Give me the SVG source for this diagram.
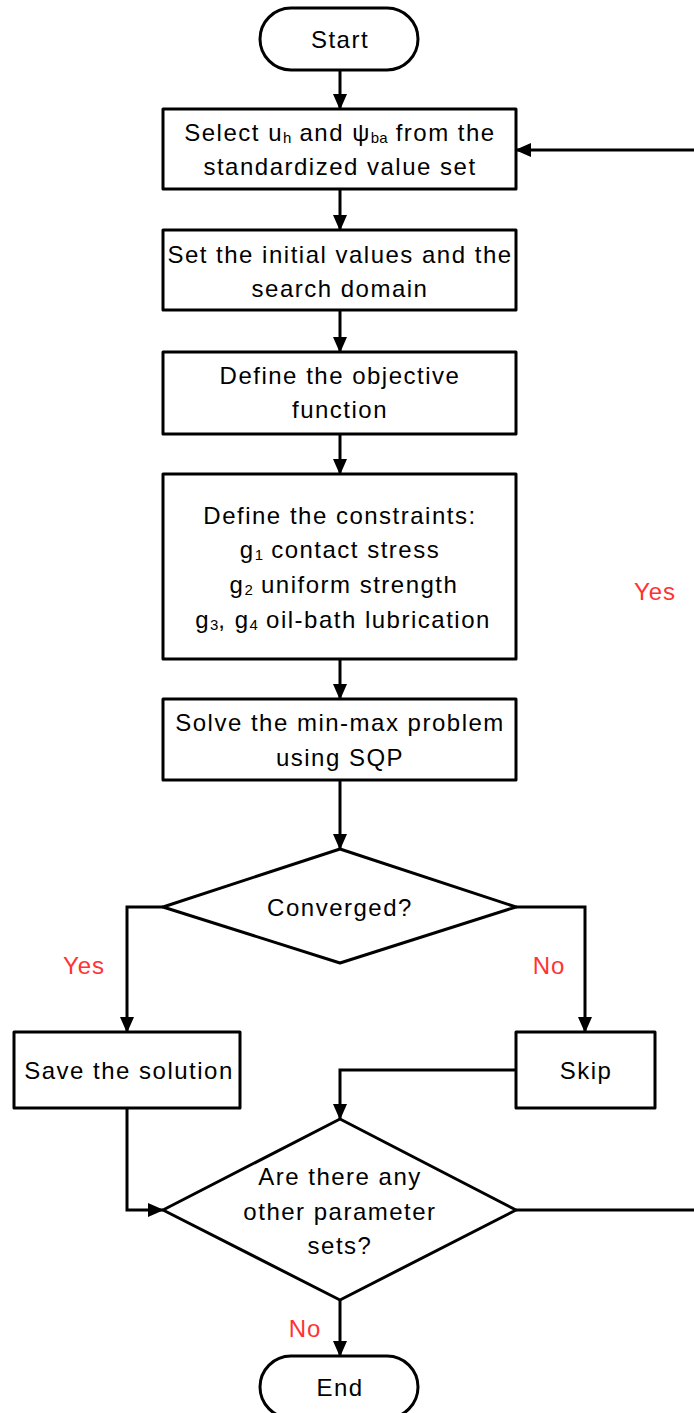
<svg xmlns="http://www.w3.org/2000/svg" width="694" height="1413" viewBox="0 0 694 1413">
<defs>
<marker id="arr" markerUnits="userSpaceOnUse" markerWidth="16" markerHeight="14" refX="15" refY="7" orient="auto">
<path d="M0,0 L16,7 L0,14 Z" fill="#000"/>
</marker>
<style>
.n{fill:#fff;stroke:#000;stroke-width:3;stroke-linejoin:round}
.t{font-family:"Liberation Sans",Arial,sans-serif;font-size:24px;letter-spacing:1.5px;fill:#000;text-anchor:middle;dominant-baseline:central}
.s{font-size:15px;letter-spacing:0}
.c{fill:none;stroke:#000;stroke-width:3}
.l{font-family:"Liberation Sans",Arial,sans-serif;font-size:24px;letter-spacing:1px;fill:#FF3333;text-anchor:middle;dominant-baseline:central}
</style>
</defs>
<rect width="694" height="1413" fill="#fff"/>
<g id="connectors">
<path class="c" d="M340,70 V109" marker-end="url(#arr)"/>
<path class="c" d="M340,189 V230" marker-end="url(#arr)"/>
<path class="c" d="M340,310 V352" marker-end="url(#arr)"/>
<path class="c" d="M340,434 V474" marker-end="url(#arr)"/>
<path class="c" d="M340,659 V699" marker-end="url(#arr)"/>
<path class="c" d="M340,780 V849" marker-end="url(#arr)"/>
<path class="c" d="M163,907 H127 V1032" marker-end="url(#arr)"/>
<path class="c" d="M516,907 H585 V1032" marker-end="url(#arr)"/>
<path class="c" d="M516,1070 H340 V1119" marker-end="url(#arr)"/>
<path class="c" d="M127,1108 V1210 H163" marker-end="url(#arr)"/>
<path class="c" d="M516,1210 H704 V150 H516" marker-end="url(#arr)"/>
<path class="c" d="M340,1300 V1356" marker-end="url(#arr)"/>
<text class="l" x="84" y="965">Yes</text>
<text class="l" x="549" y="965">No</text>
<text class="l" x="655" y="591">Yes</text>
<text class="l" x="305" y="1328">No</text>
</g>
<g id="start">
<rect class="n" x="260" y="8" width="158" height="62" rx="31"/>
<text class="t" x="340" y="39">Start</text>
</g>
<g id="select">
<rect class="n" x="163" y="109" width="353" height="80"/>
<text class="t" x="340" y="132">Select u<tspan class="s" dy="5">h</tspan><tspan dy="-5"> and ψ</tspan><tspan class="s" dy="5">ba</tspan><tspan dy="-5"> from the</tspan></text>
<text class="t" x="340" y="166">standardized value set</text>
</g>
<g id="init">
<rect class="n" x="163" y="230" width="353" height="80"/>
<text class="t" x="340" y="254">Set the initial values and the</text>
<text class="t" x="340" y="288">search domain</text>
</g>
<g id="objective">
<rect class="n" x="163" y="352" width="353" height="82"/>
<text class="t" x="340" y="375">Define the objective</text>
<text class="t" x="340" y="409">function</text>
</g>
<g id="constraints">
<rect class="n" x="163" y="474" width="353" height="185"/>
<text class="t" x="340" y="515">Define the constraints:</text>
<text class="t" x="340" y="549">g<tspan class="s" dy="5">1</tspan><tspan dy="-5"> contact stress</tspan></text>
<text class="t" x="344" y="584">g<tspan class="s" dy="5">2</tspan><tspan dy="-5"> uniform strength</tspan></text>
<text class="t" x="343" y="619">g<tspan class="s" dy="5">3</tspan><tspan dy="-5">, g</tspan><tspan class="s" dy="5">4</tspan><tspan dy="-5"> oil-bath lubrication</tspan></text>
</g>
<g id="solve">
<rect class="n" x="163" y="699" width="353" height="81"/>
<text class="t" x="340" y="722">Solve the min-max problem</text>
<text class="t" x="340" y="757">using SQP</text>
</g>
<g id="converged">
<polygon class="n" points="340,849 516,907 340,963 163,907"/>
<text class="t" x="340" y="907">Converged?</text>
</g>
<g id="save">
<rect class="n" x="14" y="1032" width="226" height="76"/>
<text class="t" x="129" y="1070">Save the solution</text>
</g>
<g id="skip">
<rect class="n" x="516" y="1032" width="139" height="76"/>
<text class="t" x="586" y="1070">Skip</text>
</g>
<g id="other">
<polygon class="n" points="340,1119 516,1210 340,1300 163,1210"/>
<text class="t" x="340" y="1176">Are there any</text>
<text class="t" x="340" y="1211">other parameter</text>
<text class="t" x="340" y="1245">sets?</text>
</g>
<g id="end">
<rect class="n" x="260" y="1356" width="158" height="62" rx="31"/>
<text class="t" x="340" y="1387">End</text>
</g>
</svg>
